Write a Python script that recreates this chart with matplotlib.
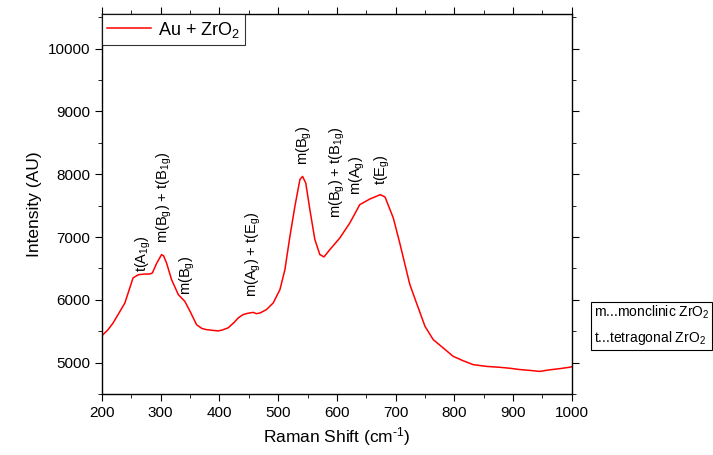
import matplotlib
matplotlib.use("Agg")
import matplotlib.pyplot as plt
from matplotlib.ticker import MultipleLocator

plt.rcParams['font.family'] = ['Liberation Sans', 'DejaVu Sans']
plt.rcParams['mathtext.fontset'] = 'custom'
plt.rcParams['mathtext.rm'] = 'Liberation Sans'
plt.rcParams['mathtext.it'] = 'Liberation Sans'
plt.rcParams['mathtext.default'] = 'regular'

raman_shift = [200, 210, 219, 229, 239, 246, 253, 262, 272, 282, 286, 293, 301.5, 305, 310,
               318.5, 330, 341, 350, 361, 370, 378, 388, 398, 405, 415, 425, 432, 440, 448,
               457.5, 463, 469, 480, 491.5, 503, 511.5, 520, 528.5, 537, 541.5, 547, 554,
               562.5, 571, 578, 588, 605, 622, 639, 656, 674, 682, 696, 707, 724, 735.5,
               750, 764, 781, 798, 815, 832, 855, 877, 895, 911, 930, 945, 962, 980, 996, 1000]
intensity = [5430, 5520, 5632, 5790, 5950, 6150, 6350, 6400, 6410, 6412, 6430, 6580, 6720, 6700, 6586,
             6322, 6083, 5977, 5817, 5605, 5545, 5525, 5515, 5505, 5520, 5555, 5640, 5711, 5764, 5785,
             5800, 5780, 5790, 5844, 5950, 6162, 6481, 7011, 7489, 7914, 7966, 7860, 7436,
             6959, 6720, 6683, 6800, 6985, 7224, 7516, 7605, 7675, 7637, 7304, 6906, 6250, 5950,
             5578, 5366, 5234, 5100, 5030, 4968, 4940, 4926, 4910, 4890, 4875, 4860, 4885, 4905, 4926, 4935]

labels = [r"t(A$_{1g}$)", r"m(B$_g$) + t(B$_{1g}$)", r"m(B$_g$)", r"m(A$_g$) + t(E$_g$)",
          r"m(B$_g$)", r"m(B$_g$) + t(B$_{1g}$)", r"m(A$_g$)", r"t(E$_g$)"]
label_x = [270, 307, 345, 457, 545, 600, 634, 678]
label_y = [6450, 6910, 6083, 6050, 8153, 7309, 7675, 7834]

fig = plt.figure(figsize=(7.13, 4.55), dpi=100)
ax = fig.add_axes([0.143, 0.134, 0.659, 0.835])
ax.plot(raman_shift, intensity, color='#FF0000', lw=1.1, label=r"Au + ZrO$_2$")

for t, lx, ly in zip(labels, label_x, label_y):
    ax.text(lx, ly, t, rotation=90, ha='center', va='bottom', fontsize=10.5)

ax.set_xlim(200, 1000)
ax.set_ylim(4500, 10550)
ax.xaxis.set_major_locator(MultipleLocator(100))
ax.xaxis.set_minor_locator(MultipleLocator(50))
ax.yaxis.set_major_locator(MultipleLocator(1000))
ax.yaxis.set_minor_locator(MultipleLocator(500))
ax.set_yticks([5000, 6000, 7000, 8000, 9000, 10000])
ax.tick_params(which='both', direction='out', labelsize=11, top=True, right=True)
ax.tick_params(which='major', length=5)
ax.tick_params(which='minor', length=3)
for s in ax.spines.values():
    s.set_linewidth(1.0)

ax.set_xlabel("Raman Shift (cm$^{\u20101}$)", fontsize=12.5)
ax.set_ylabel("Intensity (AU)", fontsize=12.5)

leg = ax.legend(loc='upper left', bbox_to_anchor=(0, 1), borderaxespad=0, fontsize=13,
                fancybox=False, edgecolor='black', handlelength=2.4, handletextpad=0.4,
                borderpad=0.3)
leg.get_frame().set_linewidth(0.8)

fig.text(0.833, 0.237, "m...monclinic ZrO$_2$\nt...tetragonal ZrO$_2$", fontsize=10,
         ha='left', va='bottom', linespacing=1.6,
         bbox=dict(boxstyle='square,pad=0.2', fc='white', ec='black', lw=0.8))

fig.savefig("out.png", dpi=100)
